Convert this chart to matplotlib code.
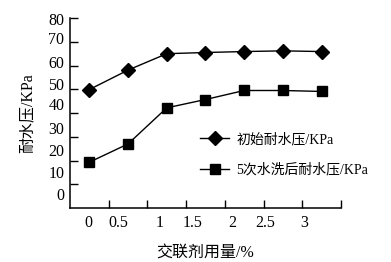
import numpy as np
import matplotlib.pyplot as plt
from matplotlib.ticker import FixedLocator, NullFormatter

plt.rcParams['font.family'] = ['Liberation Serif', 'Noto Sans CJK SC']

# crosslinker dosage (%) and water pressure resistance (KPa)
dosage = [0, 0.5, 1, 1.5, 2, 2.5, 3]
initial = [49.9, 58.1, 65.0, 65.5, 65.9, 66.2, 65.9]
washed = [19.3, 27.0, 42.2, 45.7, 49.5, 49.5, 49.1]

x_labels = ['0', '0.5', '1', '1.5', '2', '2.5', '3']
y_labels = ['80', '70', '60', '50', '40', '30', '20', '10', '0']

# the scan's tick labels sit a bit off their tick marks
x_label_pos = [-0.01, 0.37, 0.91, 1.33, 1.85, 2.27, 2.77]
y_label_pos = [79.8, 71.5, 61.3, 52.3, 43.8, 33.6, 24.3, 15.3, 6.0]

fig = plt.figure(figsize=(3.91, 2.62), dpi=100)
ax = fig.add_axes([0.179, 0.206, 0.693, 0.725])

ax.plot(dosage, initial, color='black', lw=1.0, marker='D', ms=7.5,
        label='初始耐水压/KPa')
ax.plot(dosage, washed, color='black', lw=1.0, marker='s', ms=7,
        label='5次水洗后耐水压/KPa')

ax.set_xlim(-0.25, 3.25)
ax.set_ylim(0, 80)

ax.xaxis.set_major_locator(FixedLocator(x_label_pos))
ax.set_xticklabels(x_labels)
ax.xaxis.set_minor_locator(FixedLocator(np.arange(0.25, 3.3, 0.5)))
ax.yaxis.set_major_locator(FixedLocator(y_label_pos))
ax.set_yticklabels(y_labels)
ax.yaxis.set_minor_locator(FixedLocator(np.arange(10, 81, 10)))
ax.xaxis.set_minor_formatter(NullFormatter())
ax.yaxis.set_minor_formatter(NullFormatter())

ax.tick_params(which='major', length=0, labelsize=11.5)
ax.tick_params(axis='x', which='major', pad=5)
ax.tick_params(axis='y', which='major', pad=4)
ax.tick_params(which='minor', direction='in', length=5.5, width=1.0)

for s in ['top', 'right']:
    ax.spines[s].set_visible(False)
for s in ['left', 'bottom']:
    ax.spines[s].set_linewidth(1.1)

ax.set_xlabel('交联剂用量/%', fontsize=11.5, labelpad=10)
ax.set_ylabel('耐水压/KPa', fontsize=11.5, labelpad=9)

ax.legend(loc='upper left', bbox_to_anchor=(0.455, 0.435), frameon=False,
          fontsize=10, handlelength=2.1, handletextpad=0.5,
          labelspacing=1.25, borderpad=0)

fig.savefig('out.png', dpi=100)
